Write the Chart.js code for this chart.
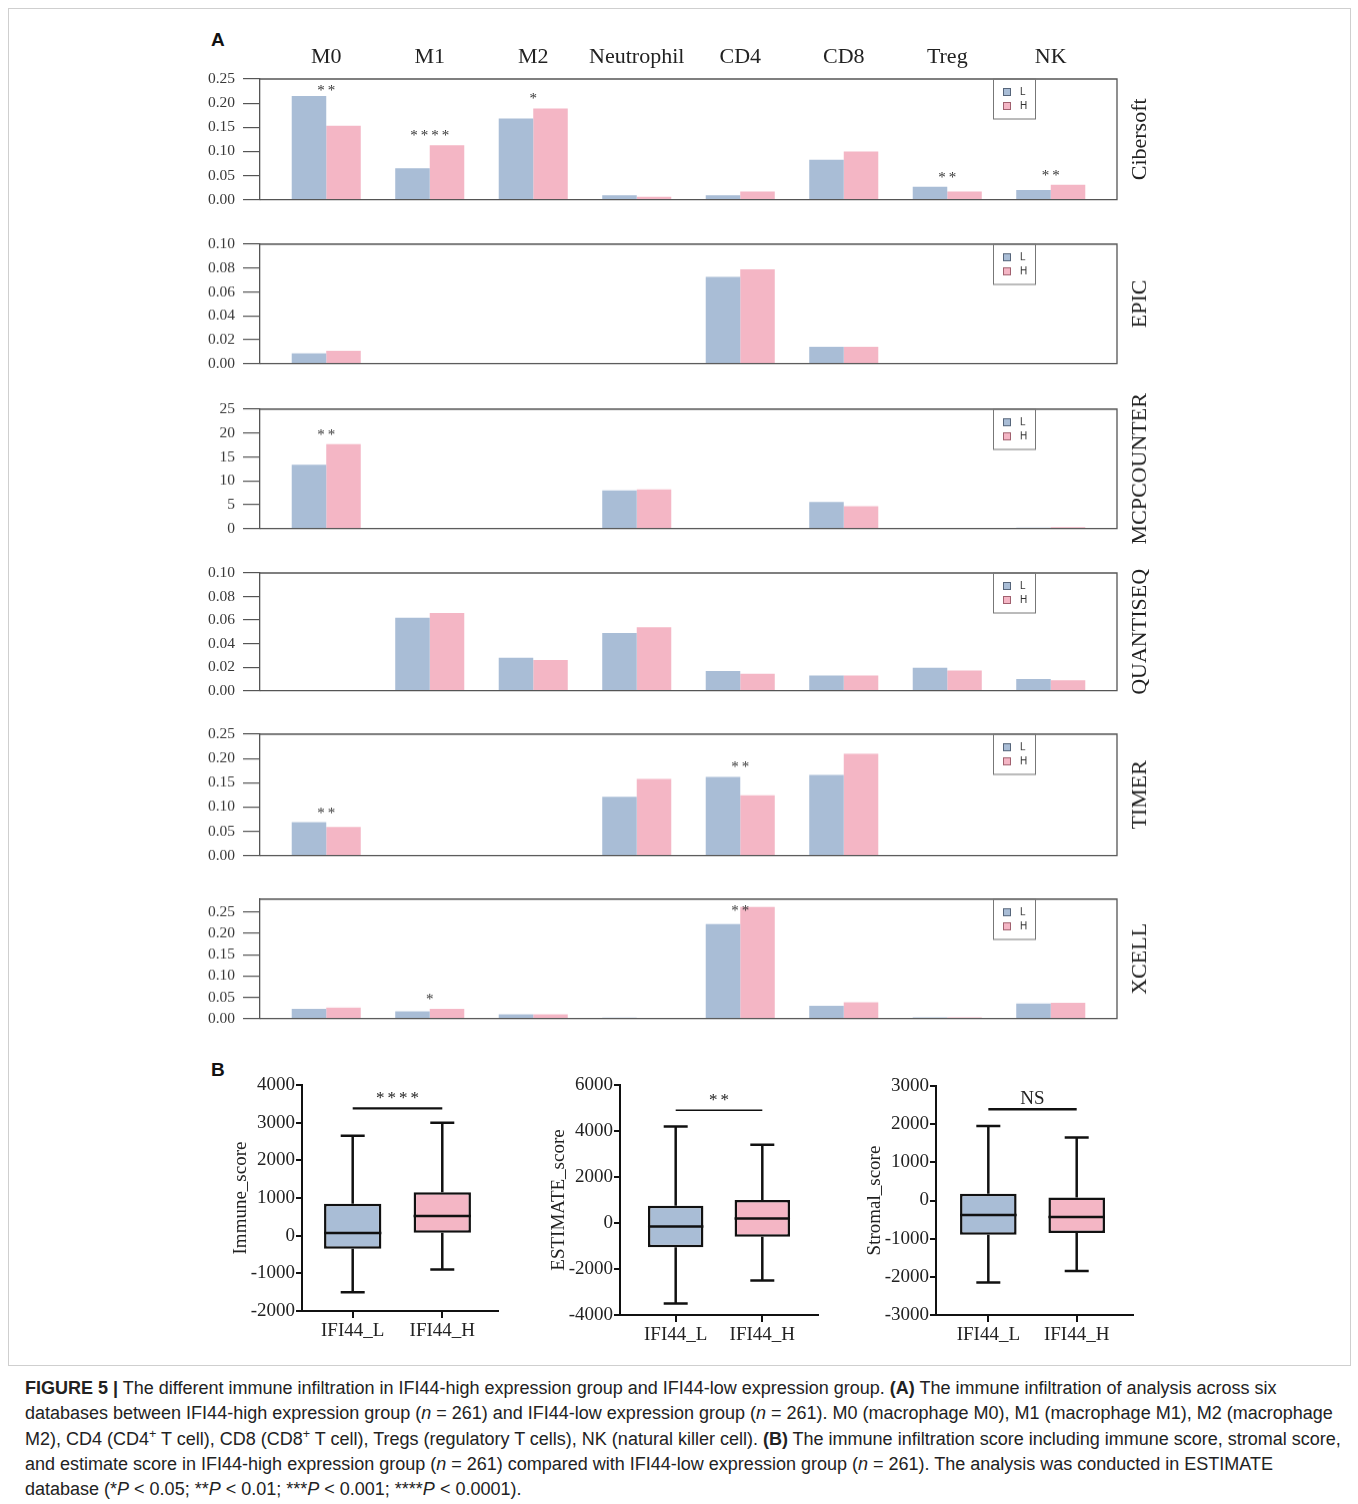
<!DOCTYPE html>
<html><head><meta charset="utf-8">
<script src="https://cdn.jsdelivr.net/npm/chart.js@4.4.1/dist/chart.umd.min.js"></script>
<style>
html,body{margin:0;background:#fff;}
#page{position:relative;width:1358px;height:1504px;overflow:hidden;font-family:"Liberation Sans",Arial,sans-serif;}
.frame{position:absolute;left:8px;top:8px;width:1341px;height:1356px;border:1px solid #cfcfcf;}
canvas{position:absolute;}
.lab{position:absolute;font-weight:bold;font-size:19px;color:#111;}
#cap{position:absolute;left:25px;top:1376px;font-size:18px;line-height:25.3px;color:#222;white-space:nowrap;}
#cap sup{font-size:.7em;line-height:0;vertical-align:.55em;}
</style></head><body>
<div id="page">
  <div class="frame"></div>
  <div class="lab" style="left:211px;top:29px">A</div>
  <div class="lab" style="left:211px;top:1059px">B</div>
  <div id="cap"><b>FIGURE 5 |</b> The different immune infiltration in IFI44-high expression group and IFI44-low expression group. <b>(A)</b> The immune infiltration of analysis across six<br>databases between IFI44-high expression group (<i>n</i> = 261) and IFI44-low expression group (<i>n</i> = 261). M0 (macrophage M0), M1 (macrophage M1), M2 (macrophage<br>M2), CD4 (CD4<sup>+</sup> T cell), CD8 (CD8<sup>+</sup> T cell), Tregs (regulatory T cells), NK (natural killer cell). <b>(B)</b> The immune infiltration score including immune score, stromal score,<br>and estimate score in IFI44-high expression group (<i>n</i> = 261) compared with IFI44-low expression group (<i>n</i> = 261). The analysis was conducted in ESTIMATE<br>database (*<i>P</i> &lt; 0.05; **<i>P</i> &lt; 0.01; ***<i>P</i> &lt; 0.001; ****<i>P</i> &lt; 0.0001).</div>
</div>
<script>
/* DATA - panel A */
const categories=['M0','M1','M2','Neutrophil','CD4','CD8','Treg','NK'];
const dbNames=['Cibersoft','EPIC','MCPCOUNTER','QUANTISEQ','TIMER','XCELL'];
const dbMax=[0.25,0.10,25,0.10,0.25,0.28];
const dbStep=[0.05,0.02,5,0.02,0.05,0.05];
const dbDecimals=[2,2,0,2,2,2];

const ciberL=[0.215,0.065,0.168,0.009,0.009,0.083,0.027,0.020];
const ciberH=[0.153,0.113,0.189,0.006,0.017,0.100,0.017,0.031];
const ciberSig=['**','****','*','','','','**','**'];
const epicL=[0.0085,null,null,null,0.0726,0.014,null,null];
const epicH=[0.0107,null,null,null,0.0789,0.014,null,null];
const epicSig=['','','','','','','',''];
const mcpL=[13.35,null,null,8.0,null,5.55,null,0.2];
const mcpH=[17.7,null,null,8.2,null,4.7,null,0.3];
const mcpSig=['**','','','','','','',''];
const quanL=[null,0.062,0.028,0.049,0.0167,0.013,0.0194,0.010];
const quanH=[null,0.066,0.026,0.054,0.0144,0.013,0.0172,0.0089];
const quanSig=['','','','','','','',''];
const timerL=[0.0687,null,null,0.121,0.162,0.166,null,null];
const timerH=[0.059,null,null,0.158,0.124,0.2096,null,null];
const timerSig=['**','','','','**','','',''];
const xcellL=[0.023,0.017,0.010,0.002,0.2215,0.030,0.003,0.035];
const xcellH=[0.026,0.023,0.010,0.001,0.2615,0.0385,0.003,0.037];
const xcellSig=['','*','','','**','','',''];

const dbL=[ciberL,epicL,mcpL,quanL,timerL,xcellL];
const dbH=[ciberH,epicH,mcpH,quanH,timerH,xcellH];
const dbSig=[ciberSig,epicSig,mcpSig,quanSig,timerSig,xcellSig];

/* DATA - panel B : [min, q1, median, q3, max] per group */
const groups=['IFI44_L','IFI44_H'];
const scoreNames=['Immune_score','ESTIMATE_score','Stromal_score'];
const immuneScore=[[-1500,-350,70,850,2650],[-900,80,520,1150,3000]];
const estimateScore=[[-3500,-1050,-150,750,4200],[-2500,-600,200,1000,3400]];
const stromalScore=[[-2150,-900,-380,180,1950],[-1850,-850,-430,80,1650]];
const scoreSig=['****','**','NS'];
const scoreSigAt=[3380,4900,2390];
const scoreMin=[-2000,-4000,-3000];
const scoreMax=[4000,6000,3000];
const scoreStep=[1000,2000,1000];
const scores=[immuneScore,estimateScore,stromalScore];

/* look */
const BLUE='#a9bdd6',PINK='#f4b6c5',SERIF='"Liberation Serif","Times New Roman",serif';
const page=document.getElementById('page');
function mk(l,t,w,h){const c=document.createElement('canvas');c.width=w;c.height=h;c.style.left=l+'px';c.style.top=t+'px';c.style.width=w+'px';c.style.height=h+'px';page.appendChild(c);return c;}

/* panel A layout: plot top / bottom in px */
const plotTop=[79.3,244.3,409,573.3,734.3,899.3];
const plotBot=[202.3,366,530.7,693.3,858,1021];

function barDecor(k){return{id:'decor'+k,afterDatasetsDraw(chart){
  const {ctx,chartArea:a,scales:{x,y}}=chart;
  ctx.save();
  ctx.strokeStyle='#555';ctx.lineWidth=1.3;
  ctx.beginPath();ctx.moveTo(a.left,a.top);ctx.lineTo(a.right,a.top);ctx.lineTo(a.right,a.bottom);ctx.lineTo(a.left,a.bottom);ctx.stroke();
  // legend
  const bx=a.right-124,by=a.top;
  ctx.strokeStyle='#777';ctx.lineWidth=1;ctx.strokeRect(bx+.5,by,42,40);
  [['L',BLUE,'#56657a'],['H',PINK,'#a0606e']].forEach(([t,f,s],i)=>{
    const yy=by+13+i*14;
    ctx.fillStyle=f;ctx.fillRect(bx+10,yy-4,8,8);ctx.strokeStyle=s;ctx.strokeRect(bx+10.5,yy-3.5,7,7);
    ctx.fillStyle='#333';ctx.font='10px "Liberation Sans",Arial';ctx.textAlign='left';ctx.textBaseline='middle';ctx.fillText(t,bx+27,yy+.5);
  });
  // significance stars
  ctx.font='15px '+SERIF;ctx.textAlign='center';ctx.textBaseline='alphabetic';ctx.fillStyle='#333';ctx.letterSpacing='3px';
  dbSig[k].forEach((s,i)=>{if(!s)return;
    const v=Math.max(dbL[k][i]||0,dbH[k][i]||0);
    const base=Math.max(y.getPixelForValue(v)-5,a.top+16);
    ctx.fillText(s,x.getPixelForValue(i)+1.5,base);});
  ctx.letterSpacing='0px';
  // database name on the right
  ctx.translate(a.right+23,(a.top+a.bottom)/2);ctx.rotate(-Math.PI/2);
  ctx.font='22px '+SERIF;ctx.fillStyle='#222';ctx.textBaseline='middle';ctx.fillText(dbNames[k],0,0);
  ctx.restore();
  if(k===0){ctx.save();ctx.font='22px '+SERIF;ctx.fillStyle='#222';ctx.textAlign='center';ctx.textBaseline='middle';
    categories.forEach((c,i)=>ctx.fillText(c,x.getPixelForValue(i),a.top-22));ctx.restore();}
}};}

dbNames.forEach((name,k)=>{
  const padTop=k===0?50:20,padBot=15;
  const c=mk(190,plotTop[k]-padTop,1000,plotBot[k]-plotTop[k]+padTop+padBot);
  new Chart(c,{type:'bar',
    data:{datasets:[
      {label:'L',data:dbL[k].map((v,i)=>({x:i,y:v})),backgroundColor:BLUE,barPercentage:1,categoryPercentage:0.667},
      {label:'H',data:dbH[k].map((v,i)=>({x:i,y:v})),backgroundColor:PINK,barPercentage:1,categoryPercentage:0.667}]},
    options:{responsive:false,animation:false,events:[],
      layout:{padding:{top:padTop,bottom:padBot,left:0,right:73}},
      plugins:{legend:{display:false},tooltip:{enabled:false}},
      scales:{
        x:{type:'linear',display:false,bounds:'data',offset:false,min:-0.64,max:7.64,
          afterBuildTicks:s=>{s.ticks=categories.map((c,i)=>({value:i}));}},
        y:{min:0,max:dbMax[k],border:{display:true,color:'#555',width:1.3},
          grid:{drawOnChartArea:false,drawTicks:true,tickLength:17,color:'#555',lineWidth:1.2},
          ticks:{stepSize:dbStep[k],includeBounds:false,padding:8,color:'#383838',font:{family:SERIF,size:15.5},callback:v=>v.toFixed(dbDecimals[k])},
          afterFit:s=>{s.width=70;}}}},
    plugins:[barDecor(k)]});
});

/* panel B layout */
const boxAxisX=[302,620,936],boxRight=[498,818,1133],boxTop=[1085,1085,1086],boxBot=[1311,1315,1315];
const boxXMin=[-0.566,-0.643,-0.592],boxXMax=[1.622,1.643,1.637];

function boxDecor(k){return{id:'box'+k,afterDatasetsDraw(chart){
  const {ctx,chartArea:a,scales:{x,y}}=chart;
  const bars=chart.getDatasetMeta(0).data;
  ctx.save();ctx.strokeStyle='#111';ctx.lineWidth=2.5;
  scores[k].forEach((s,i)=>{
    const b=bars[i],cx=b.x,hw=b.width/2,cap=12;
    const [mn,q1,md,q3,mx]=s.map(v=>y.getPixelForValue(v));
    ctx.beginPath();
    ctx.moveTo(cx,q3);ctx.lineTo(cx,mx);ctx.moveTo(cx-cap,mx);ctx.lineTo(cx+cap,mx);
    ctx.moveTo(cx,q1);ctx.lineTo(cx,mn);ctx.moveTo(cx-cap,mn);ctx.lineTo(cx+cap,mn);
    ctx.moveTo(cx-hw,md);ctx.lineTo(cx+hw,md);
    ctx.stroke();
  });
  const sy=y.getPixelForValue(scoreSigAt[k]);
  ctx.lineWidth=k===1?1.6:2.4;
  ctx.beginPath();ctx.moveTo(x.getPixelForValue(0),sy);ctx.lineTo(x.getPixelForValue(1),sy);ctx.stroke();
  ctx.fillStyle='#222';ctx.textAlign='center';
  const mid=(x.getPixelForValue(0)+x.getPixelForValue(1))/2;
  if(scoreSig[k]==='NS'){ctx.font='19px '+SERIF;ctx.textBaseline='alphabetic';ctx.fillText('NS',mid,sy-5);}
  else{ctx.font='17px '+SERIF;ctx.letterSpacing='3px';ctx.textBaseline='alphabetic';ctx.fillText(scoreSig[k],mid+1.5,sy-5);ctx.letterSpacing='0px';}
  ctx.translate(a.left-61,(a.top+a.bottom)/2);ctx.rotate(-Math.PI/2);
  ctx.font='19px '+SERIF;ctx.textBaseline='middle';ctx.fillText(scoreNames[k],0,0);
  ctx.restore();
}};}

scoreNames.forEach((nm,k)=>{
  const left=boxAxisX[k]-100,top=1060,w=boxRight[k]-boxAxisX[k]+115,h=310;
  const c=mk(left,top,w,h);
  new Chart(c,{type:'bar',
    data:{datasets:[{data:scores[k].map((s,i)=>({x:i,y:[s[1],s[3]]})),
      backgroundColor:[BLUE,PINK],borderColor:'#111',borderWidth:2.5,borderSkipped:false,barPercentage:0.64,categoryPercentage:1}]},
    options:{responsive:false,animation:false,events:[],
      layout:{padding:{top:boxTop[k]-top,right:15,left:0,bottom:0}},
      plugins:{legend:{display:false},tooltip:{enabled:false}},
      scales:{
        x:{type:'linear',bounds:'data',offset:false,min:boxXMin[k],max:boxXMax[k],border:{color:'#111',width:2},
          grid:{offset:false,drawOnChartArea:false,tickLength:7,color:'#111',lineWidth:2},
          afterBuildTicks:s=>{s.ticks=groups.map((g,i)=>({value:i}));},
          ticks:{padding:2,color:'#222',font:{family:SERIF,size:19},callback:v=>groups[Math.round(v)]},
          afterFit:s=>{s.height=top+h-boxBot[k];}},
        y:{min:scoreMin[k],max:scoreMax[k],border:{color:'#111',width:2},
          grid:{drawOnChartArea:false,tickLength:6,color:'#111',lineWidth:2},
          ticks:{stepSize:scoreStep[k],padding:1,color:'#222',font:{family:SERIF,size:19},callback:v=>String(v)},
          afterFit:s=>{s.width=100;}}}},
    plugins:[boxDecor(k)]});
});
</script>
</body></html>
